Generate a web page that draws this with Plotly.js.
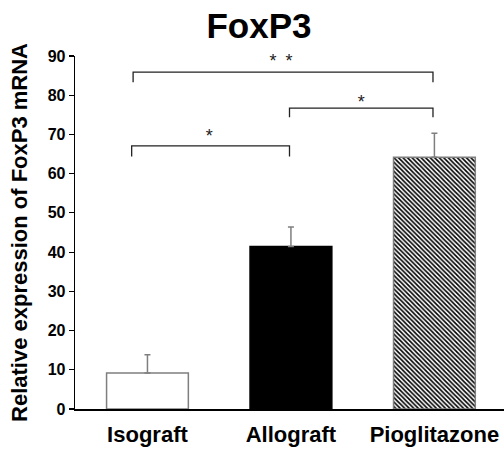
<!DOCTYPE html>
<html>
<head>
<meta charset="utf-8">
<script src="https://cdn.plot.ly/plotly-3.0.1.min.js"></script>
<style>html,body{margin:0;padding:0;background:#fff;}#chart{width:504px;height:449px;}</style>
</head>
<body>
<div id="chart"></div>
<script>
// Data
const categories = ["Isograft", "Allograft", "Pioglitazone"];
const values = [9.2, 41.4, 64.2];
const errorsUp = [4.6, 5.0, 6.1];
const barFills = ["#ffffff", "#000000", "#ffffff"];
const barOutlines = ["#7f7f7f", "#000000", "#7f7f7f"];
const barPatterns = ["", "", "\\"];

// Significance brackets (x in category units, y in data units)
const bracketStart = [-0.11, 0.99, -0.10];
const bracketEnd = [0.99, 1.99, 1.99];
const bracketTop = [67.1, 76.7, 85.9];
const bracketBottom = [64.4, 74.4, 83.3];
const bracketLabel = ["*", "*", "*\u2002*"];
const labelX = [0.43, 1.49, 0.93];
const labelY = [69.3, 77.9, 88.4];

const yTicks = [0, 10, 20, 30, 40, 50, 60, 70, 80, 90];

const FONT = "Arial, 'Liberation Sans', sans-serif";

const traces = [];
for (let i = 0; i < categories.length; i++) {
  const marker = {
    color: barFills[i],
    line: {color: barOutlines[i], width: 1.5}
  };
  if (barPatterns[i]) {
    marker.pattern = {shape: barPatterns[i], fgcolor: "#000000", bgcolor: "#ffffff", size: 3.2, solidity: 0.5, fillmode: "replace"};
  }
  traces.push({
    type: "bar",
    x: [i],
    y: [values[i]],
    width: 0.57,
    marker: marker,
    error_y: {type: "data", symmetric: false, array: [errorsUp[i]], arrayminus: [0], color: "#7f7f7f", thickness: 1.5, width: 3},
    hoverinfo: "skip",
    showlegend: false
  });
}

for (let i = 0; i < bracketStart.length; i++) {
  traces.push({
    type: "scatter",
    mode: "lines",
    x: [bracketStart[i], bracketStart[i], bracketEnd[i], bracketEnd[i]],
    y: [bracketBottom[i], bracketTop[i], bracketTop[i], bracketBottom[i]],
    line: {color: "#222222", width: 1.3},
    hoverinfo: "skip",
    showlegend: false,
    cliponaxis: false
  });
}
traces.push({
  type: "scatter",
  mode: "text",
  x: labelX,
  y: labelY,
  text: bracketLabel,
  textposition: "middle center",
  textfont: {family: FONT, size: 18, color: "#222222"},
  hoverinfo: "skip",
  showlegend: false,
  cliponaxis: false
});

const layout = {
  width: 504,
  height: 449,
  margin: {l: 75, r: 0, t: 56, b: 40},
  paper_bgcolor: "#ffffff",
  plot_bgcolor: "#ffffff",
  barmode: "overlay",
  title: {
    text: "<b>FoxP3</b>",
    font: {family: FONT, size: 35, color: "#000000"},
    x: 259 / 504, xref: "container", xanchor: "center",
    y: 1 - 26 / 449, yref: "container", yanchor: "middle"
  },
  xaxis: {
    range: [-0.505, 2.485],
    tickmode: "array",
    tickvals: [0, 1, 2],
    ticktext: categories.map(c => "<b>" + c + "</b>"),
    tickfont: {family: FONT, size: 22, color: "#000000"},
    ticks: "",
    showline: true,
    linecolor: "#000000",
    linewidth: 2,
    showgrid: false,
    zeroline: false,
    fixedrange: true,
    ticklabelstandoff: 5
  },
  yaxis: {
    range: [0, 90],
    tickmode: "array",
    tickvals: yTicks,
    ticktext: yTicks.map(v => "<b>" + v + "</b>"),
    tickfont: {family: FONT, size: 16, color: "#000000"},
    ticks: "outside",
    ticklen: 5,
    tickwidth: 1.2,
    tickcolor: "#000000",
    showline: true,
    linecolor: "#000000",
    linewidth: 1.3,
    showgrid: false,
    zeroline: false,
    fixedrange: true,
    title: {
      text: "<b>Relative expression of FoxP3 mRNA</b>",
      font: {family: FONT, size: 22, color: "#000000"},
      standoff: 14
    }
  }
};

Plotly.newPlot("chart", traces, layout, {displayModeBar: false, staticPlot: true});
</script>
</body>
</html>
